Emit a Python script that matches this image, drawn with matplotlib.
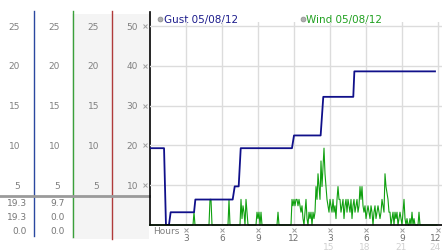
import numpy as np
import matplotlib
matplotlib.use("Agg")
import matplotlib.pyplot as plt
import matplotlib.transforms as mtransforms
from matplotlib.patches import Rectangle

plt.rcParams['font.family'] = ['DejaVu Sans']

# gust (km/h), step line
gust_t = [0, 1.17, 1.33, 1.58, 1.72, 3.67, 3.78, 6.89, 7.06, 7.39, 7.56,
          11.83, 12.0, 14.22, 14.44, 16.94, 17.03, 23.75]
gust_v = [19.3, 19.3, 0.0, 0.0, 3.2, 3.2, 6.4, 6.4, 9.7, 9.7, 19.3,
          19.3, 22.5, 22.5, 32.2, 32.2, 38.6, 38.6]

# wind, 5 minute samples, in mph steps (one row per hour)
wind_mph = [
    [0, 0, 0, 0, 0, 0, 0, 0, 0, 0, 0, 0],
    [0, 0, 0, 0, 0, 0, 0, 0, 0, 0, 0, 0],
    [0, 0, 0, 0, 0, 0, 0, 0, 0, 0, 0, 0],
    [0, 0, 0, 0, 0, 0, 0, 0, 2, 0, 0, 0],
    [0, 0, 0, 0, 0, 0, 0, 0, 0, 0, 0, 0],
    [4, 4, 0, 0, 0, 0, 0, 0, 0, 0, 0, 0],
    [0, 0, 0, 0, 0, 0, 0, 4, 0, 0, 0, 0],
    [0, 0, 0, 0, 0, 0, 0, 4, 1, 3, 2, 0],
    [4, 2, 0, 0, 0, 0, 0, 0, 0, 0, 0, 2],
    [1, 2, 0, 2, 0, 0, 0, 0, 0, 0, 0, 0],
    [0, 0, 0, 0, 0, 0, 0, 0, 2, 0, 0, 0],
    [0, 0, 0, 0, 0, 0, 0, 0, 0, 0, 4, 3],
    [4, 3, 4, 4, 3, 4, 3, 2, 3, 1, 0, 2],
    [4, 1, 0, 2, 1, 2, 0, 2, 1, 2, 6, 4],
    [8, 6, 4, 10, 6, 9, 12, 8, 6, 4, 3, 2],
    [4, 3, 2, 4, 2, 3, 1, 4, 6, 4, 4, 2],
    [3, 4, 1, 3, 4, 2, 4, 3, 2, 4, 1, 3],
    [4, 2, 3, 4, 2, 3, 6, 4, 6, 3, 2, 3],
    [1, 2, 3, 2, 1, 3, 2, 0, 2, 3, 1, 2],
    [3, 2, 1, 2, 4, 3, 2, 8, 6, 5, 4, 2],
    [2, 0, 1, 2, 0, 2, 1, 2, 0, 1, 2, 1],
    [0, 2, 4, 1, 0, 1, 0, 0, 1, 0, 2, 0],
    [1, 0, 0, 0, 0, 2, 0, 0, 0, 0, 0, 0],
    [0, 0, 0, 0, 0, 0, 0, 0, 0, 0, 0, 0],
]
wind = np.array(wind_mph, dtype=float).ravel() * 1.609
wind_t = np.arange(wind.size) / 12.0

main_ticks = [50, 40, 30, 20, 10]
side_ticks = [25, 20, 15, 10, 5]
hour_ticks = [3, 6, 9, 12, 15, 18, 21, 24]
hour_labels = ['3', '6', '9', '12', '3', '6', '9', '12']
hour_labels2 = ['', '', '', '', '15', '18', '21', '24']
col1_vals = ['19.3', '19.3', '0.0']
col2_vals = ['9.7', '0.0', '0.0']

W, H = 442, 253
fig = plt.figure(figsize=(W / 100, H / 100), dpi=100)

# background in pixel coordinates for the side columns
bg = fig.add_axes([0, 0, 1, 1])
bg.set_xlim(0, W)
bg.set_ylim(H, 0)
bg.axis('off')
bg.add_patch(Rectangle((72, 15), 77, 225, color='#f4f4f4', lw=0))
bg.plot([33.5, 33.5], [12, 237], color='#2a48a0', lw=1)
bg.plot([72.5, 72.5], [12, 238], color='#3aa03a', lw=1)
bg.plot([111.5, 111.5], [12, 240], color='#b03a3a', lw=1)
bg.plot([0, 149], [196.5, 196.5], color='#9a9a9a', lw=2)
bg.plot([149.5, 149.5], [13, 226], color='black', lw=1.2)

gray = '#808080'
for i, (a, b) in enumerate(zip(col1_vals, col2_vals)):
    y = 204 + 14 * i
    bg.text(27, y, a, ha='right', va='center', fontsize=6.5, color='#777777')
    bg.text(65, y, b, ha='right', va='center', fontsize=6.5, color='#777777')

# main chart
x0 = 150
ax = fig.add_axes([x0 / W, (H - 226) / H, (W - x0) / W, 203 / H])
ax.set_xlim(0, (W - x0) / 12.0)
ax.set_ylim(0, 203 / 3.98)
ax.patch.set_alpha(0)
for s in ['left', 'right', 'top']:
    ax.spines[s].set_visible(False)
ax.spines['bottom'].set_linewidth(1.2)
ax.spines['bottom'].set_zorder(5)
ax.set_xticks(hour_ticks)
ax.set_yticks(main_ticks)
ax.tick_params(length=0, labelbottom=False, labelleft=False)
ax.grid(True, color='#dcdcdc', lw=1)
ax.set_axisbelow(True)

ax.plot(wind_t, wind, color='#10a010', lw=0.8, zorder=3, clip_on=False)
ax.plot(gust_t, gust_v, color='#10108a', lw=1.3, zorder=4)

# side column labels, aligned with the main scale
ty = mtransforms.blended_transform_factory(bg.transData, ax.transData)
for m, s in zip(main_ticks, side_ticks):
    for xc in (20, 60, 99):
        ax.text(xc, s * 2, str(s), transform=ty, ha='right', va='center',
                fontsize=6.5, color=gray)
    ax.text(138, m, str(m), transform=ty, ha='right', va='center',
            fontsize=6.5, color=gray)
    ax.plot([145], [m], transform=ty, marker='x', ms=2.5, mew=0.7,
            color='#a0a0a0', clip_on=False)

# hour labels under the axis
tx = mtransforms.blended_transform_factory(ax.transData, bg.transData)
for h, l1, l2 in zip(hour_ticks, hour_labels, hour_labels2):
    ax.plot([h], [230.5], transform=tx, marker='x', ms=2.5, mew=0.7,
            color='#a0a0a0', clip_on=False)
    # the last column sits against the right edge
    xh, al = (h + 0.3, 'right') if h == hour_ticks[-1] else (h, 'center')
    ax.text(xh, 238.5, l1, transform=tx, ha=al, va='center',
            fontsize=6.5, color='#707070')
    if l2:
        ax.text(xh - 0.1, 247.5, l2, transform=tx, ha=al, va='center',
                fontsize=6.5, color='#d0d0d0')
bg.text(153, 232, 'Hours', ha='left', va='center', fontsize=6.5, color=gray)

# legend
for xm, label, c in [(160, 'Gust 05/08/12', '#1c1c8c'),
                     (303, 'Wind 05/08/12', '#20a020')]:
    bg.plot([xm], [19.5], marker='o', ms=3.5, mfc='#b0b0b0', mec='#8a8a8a',
            mew=0.5)
    bg.text(xm + 3.5, 19.5, label, ha='left', va='center', fontsize=7.5,
            color=c)

fig.savefig('out.png', dpi=100)
